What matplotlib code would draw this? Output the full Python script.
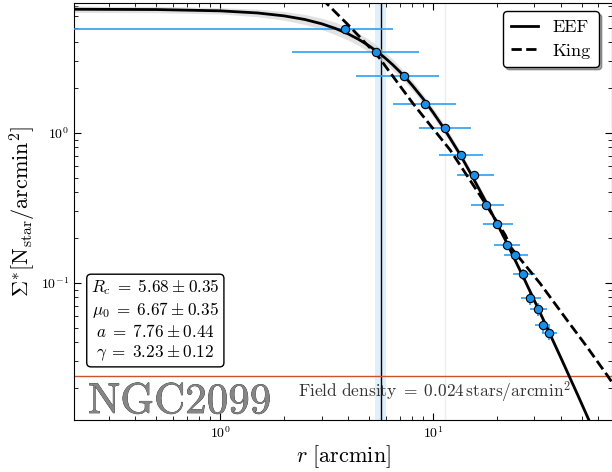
import matplotlib
matplotlib.use("Agg")
import matplotlib.pyplot as plt
import matplotlib.patheffects as pe
import numpy as np

plt.rcParams['font.family'] = 'serif'
plt.rcParams['font.serif'] = ['cmr10', 'DejaVu Serif']
plt.rcParams['mathtext.fontset'] = 'cm'
plt.rcParams['axes.formatter.use_mathtext'] = True
plt.rcParams['axes.unicode_minus'] = False

# observed radial density profile
r_obs = [3.87, 5.40, 7.28, 9.2, 11.4, 13.6, 15.6, 17.7, 20.0, 22.4, 24.4, 26.5, 28.7, 31.2, 33.1, 35.0]
r_lo = [0.01, 2.17, 4.36, 6.49, 8.62, 10.7, 12.97, 15.1, 17.2, 19.4, 21.6, 23.8, 25.9, 28.5, 30.3, 32.5]
r_hi = [6.49, 8.6, 10.7, 12.9, 15.1, 17.2, 19.4, 21.5, 23.8, 25.7, 28.1, 30.3, 32.2, 34.4, 35.6, 38.3]
dens = [4.89, 3.45, 2.39, 1.55, 1.08, 0.710, 0.523, 0.330, 0.245, 0.178, 0.153, 0.114, 0.0787, 0.0668, 0.0523, 0.0464]
dens_err = [0.09, 0.07, 0.05, 0.04, 0.03, 0.022, 0.018, 0.014, 0.012, 0.011, 0.010, 0.009, 0.008, 0.007, 0.006, 0.005]

# EEF fit curve
r_eef = [0.15, 0.5, 1, 1.5, 2, 2.5, 3, 3.5, 4, 4.5, 5, 5.5, 6, 6.5, 7, 7.5, 8, 9, 10, 11, 12,
         13.5, 15, 18, 22, 27, 33, 40, 48, 56, 70]
eef = [6.665, 6.626, 6.495, 6.287, 6.012, 5.69, 5.326, 4.945, 4.559, 4.178, 3.806, 3.457, 3.129,
       2.826, 2.550, 2.298, 2.071, 1.684, 1.373, 1.127, 0.928, 0.707, 0.541, 0.334, 0.1906,
       0.1045, 0.0570, 0.0315, 0.0178, 0.0109, 0.0054]
eef_band = [1.05, 1.05, 1.05, 1.06, 1.07, 1.08, 1.09, 1.10, 1.10, 1.10, 1.10, 1.10, 1.09, 1.09,
            1.08, 1.08, 1.08, 1.07, 1.07, 1.07, 1.07, 1.06, 1.06, 1.06, 1.05, 1.05, 1.05, 1.05,
            1.05, 1.05, 1.05]

# King profile
r_king = [2.6, 3.17, 4.08, 5.55, 8.11, 12.06, 17.0, 21.9, 23.1, 31.9, 42.7, 53.0, 65.8, 75.0]
king = [9.2, 7.27, 5.09, 3.21, 1.55, 0.767, 0.366, 0.208, 0.174, 0.0991, 0.0564, 0.0374, 0.0243, 0.0185]

Rc, Rc_err = 5.68, 0.35
field_dens = 0.024
params = [r'$R_c\;=\;5.68\:\pm\:0.35$', r'$\mu_0\;=\;6.67\:\pm\:0.35$',
          r'$a\;=\;7.76\:\pm\:0.44$', r'$\gamma\;=\;3.23\:\pm\:0.12$']

fig = plt.figure(figsize=(6.12, 4.72), dpi=100)
ax = fig.add_axes([0.121, 0.110, 0.8795, 0.8826])

ax.set_xscale('log')
ax.set_yscale('log')
ax.set_xlim(0.206, 69.7)
ax.set_ylim(0.01216, 7.27)

ax.axvspan(Rc - Rc_err, Rc + Rc_err, color='#d8ecfc', alpha=0.8, lw=0, zorder=1)
ax.axvline(Rc, color='k', lw=1.0, zorder=2)
ax.axvline(2 * Rc, color='#eeeeee', lw=1.0, zorder=1)
ax.axhline(field_dens, color='#c8552a', lw=1.0, zorder=2)

eef_a = np.array(eef)
band = np.array(eef_band)
ax.fill_between(r_eef, eef_a / band, eef_a * band, color='#d0d0d0', alpha=0.6, lw=0, zorder=2)
ax.plot(r_eef, eef, 'k-', lw=2, label='EEF', zorder=4)
ax.plot(r_king, king, 'k--', lw=2, label='King', zorder=4)

r_a = np.array(r_obs)
xerr = [r_a - np.array(r_lo), np.array(r_hi) - r_a]
ax.errorbar(r_obs, dens, xerr=xerr, yerr=dens_err, fmt='none', ecolor='#2b9ff2', elinewidth=1.2, zorder=3)
ax.plot(r_obs, dens, 'o', ms=6, mfc='#1a8fe8', mec='k', mew=0.8, zorder=5)

ax.tick_params(which='both', direction='in', top=True, right=True, labelsize=10)
ax.tick_params(which='major', length=5)
ax.tick_params(which='minor', length=3)

ax.set_xlabel(r'$r\ [\mathrm{arcmin}]$', fontsize=16, labelpad=2)
ax.set_ylabel(r'$\Sigma^{*}[\mathrm{N_{star}/arcmin^{2}}]$', fontsize=16, labelpad=2)

leg = ax.legend(loc='upper right', fontsize=13, frameon=True, fancybox=True, shadow=True,
                handlelength=1.5, handletextpad=0.8, borderpad=0.45, labelspacing=0.45,
                bbox_to_anchor=(0.992, 1.003))
leg.get_frame().set_edgecolor('k')
leg.get_frame().set_alpha(1)

ax.text(0.151, 0.240, '\n'.join(params), transform=ax.transAxes, fontsize=12.3,
        ha='center', va='center', linespacing=1.2,
        bbox=dict(boxstyle='round,pad=0.25', fc='white', ec='k', lw=1), zorder=6)

ax.text(0.026, 0.017, 'NGC2099', transform=ax.transAxes, fontsize=31, color='#858585',
        ha='left', va='baseline', zorder=6,
        path_effects=[pe.Stroke(linewidth=0.45, foreground='#222222'), pe.Normal()])

ax.text(0.416, 0.055, r'$\mathrm{Field\ density}\;=\;0.024\,\mathrm{stars/arcmin^{2}}$',
        transform=ax.transAxes, fontsize=12.5, ha='left', va='baseline', color='#333333', zorder=6)

fig.savefig('out.png', dpi=100)
